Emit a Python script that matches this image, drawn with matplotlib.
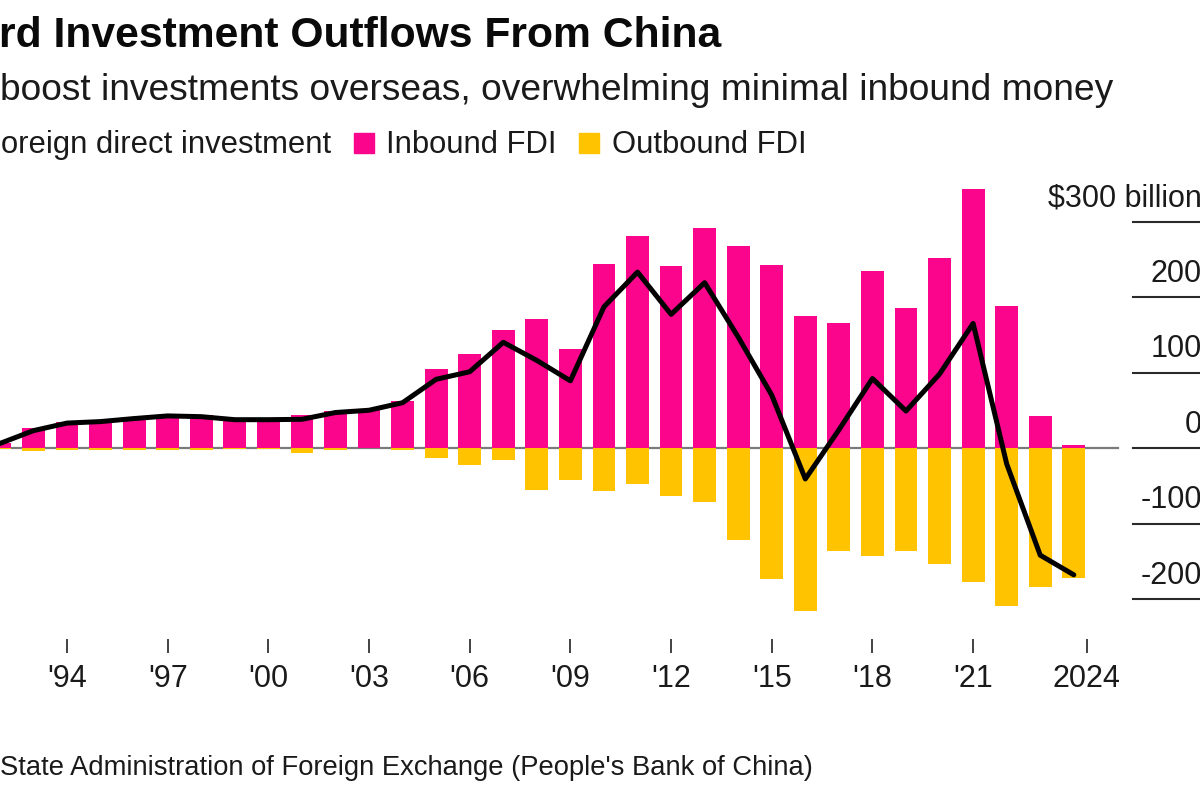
import matplotlib
matplotlib.use("Agg")
import matplotlib.pyplot as plt
from matplotlib.patches import Rectangle

# ---------------- data (US$ billion) ----------------
years = list(range(1992, 2025))
inbound = [7, 27, 35, 36, 40, 44, 43.5, 39, 38.5, 44,
           49, 50, 62, 104, 124, 156, 171, 131, 244, 281,
           241, 291, 268, 242, 175, 166, 235, 186, 251, 343,
           188, 42, 4]
outbound = [-1, -4, -2, -2, -2, -2.6, -2.6, -1.8, -1, -6.9,
            -2.5, -0.5, -2, -13, -23, -16, -55, -42, -57, -48,
            -64, -72, -122, -173, -216, -137, -143, -137, -154, -178,
            -209, -184, -172]
net = [6, 23, 33, 35, 39, 42.5, 41.5, 37.5, 37.5, 38,
       47, 50, 60, 91, 101, 140, 116, 89, 187, 233,
       177, 219, 147, 70, -41, 24, 92, 49, 98, 165,
       -21, -142, -168]

tick_labels = ["'94", "'97", "'00", "'03", "'06", "'09", "'12", "'15", "'18", "'21", "2024"]
tick_years = [1994, 1997, 2000, 2003, 2006, 2009, 2012, 2015, 2018, 2021, 2024.39]
y_levels = [300, 200, 100, 0, -100, -200]
y_labels = ["$300 billion", "200", "100", "0", "-100", "-200"]

title = "rd Investment Outflows From China"
subtitle = "boost investments overseas, overwhelming minimal inbound money"
legend_net = "oreign direct investment"
legend_in = "Inbound FDI"
legend_out = "Outbound FDI"
source = "State Administration of Foreign Exchange (People's Bank of China)"

PINK = "#FA058C"
YELLOW = "#FFC300"
FONT = "Liberation Sans"

W, H = 1200, 800
fig = plt.figure(figsize=(12, 8), dpi=100)
fig.patch.set_facecolor("white")

def fx(px):
    return px / W

def fy(py):
    return 1 - py / H

# axes: pixel rows 160..639, full width
ax_top, ax_bot = 160, 639
ax = fig.add_axes([0, fy(ax_bot), 1, (ax_bot - ax_top) / H])
ax.set_facecolor("none")
zero_px, px_per_unit = 448, 0.755
ax.set_ylim((zero_px - ax_bot) / px_per_unit, (zero_px - ax_top) / px_per_unit)
year_px0, px_per_year = 67, 33.56
ax.set_xlim(1994 - year_px0 / px_per_year, 1994 + (W - year_px0) / px_per_year)

for s in ax.spines.values():
    s.set_visible(False)

# zero line across the plot
ax.axhline(0, xmin=0, xmax=1118 / W, color="#7a7a7a", lw=1.6, zorder=1)

bw = 0.68
ax.bar(years, inbound, width=bw, color=PINK, zorder=2, linewidth=0)
ax.bar(years, outbound, width=bw, color=YELLOW, zorder=2, linewidth=0)
ax.plot(years, net, color="black", lw=3.6, zorder=3,
        solid_joinstyle="round", solid_capstyle="round")

# right-side short gridlines with labels above
for v, lab in zip(y_levels, y_labels):
    ax.axhline(v, xmin=1133 / W, xmax=1.0, color="#2a2a2a", lw=1.5, zorder=1)
    ax.annotate(lab, xy=(1202 / W, v), xycoords=("axes fraction", "data"),
                xytext=(0, 11), textcoords="offset points",
                ha="right", va="baseline", fontsize=22, family=FONT,
                color="#1a1a1a", annotation_clip=False)

ax.set_yticks([])
ax.set_xticks(tick_years)
ax.set_xticklabels(tick_labels)
ax.tick_params(axis="x", direction="out", length=10, width=1.2, color="#222222",
               pad=8, labelsize=22, labelcolor="#1a1a1a")
for t in ax.get_xticklabels():
    t.set_family(FONT)

# texts
fig.text(fx(-1), fy(47), title, fontsize=30.7, fontweight="bold", family=FONT,
         ha="left", va="baseline", color="#0a0a0a")
fig.text(fx(0), fy(100), subtitle, fontsize=26.75, family=FONT,
         ha="left", va="baseline", color="#1a1a1a")
fig.text(fx(1), fy(153), legend_net, fontsize=22.3, family=FONT,
         ha="left", va="baseline", color="#1a1a1a")
fig.patches.append(Rectangle((fx(354), fy(153)), 20 / W, 20 / H,
                             transform=fig.transFigure, color=PINK))
fig.text(fx(386), fy(153), legend_in, fontsize=22.3, family=FONT,
         ha="left", va="baseline", color="#1a1a1a")
fig.patches.append(Rectangle((fx(579), fy(153)), 20 / W, 20 / H,
                             transform=fig.transFigure, color=YELLOW))
fig.text(fx(612), fy(153), legend_out, fontsize=22.3, family=FONT,
         ha="left", va="baseline", color="#1a1a1a")
fig.text(fx(0), fy(775), source, fontsize=19.7, family=FONT,
         ha="left", va="baseline", color="#1a1a1a")

fig.savefig("out.png", dpi=100, facecolor="white")
